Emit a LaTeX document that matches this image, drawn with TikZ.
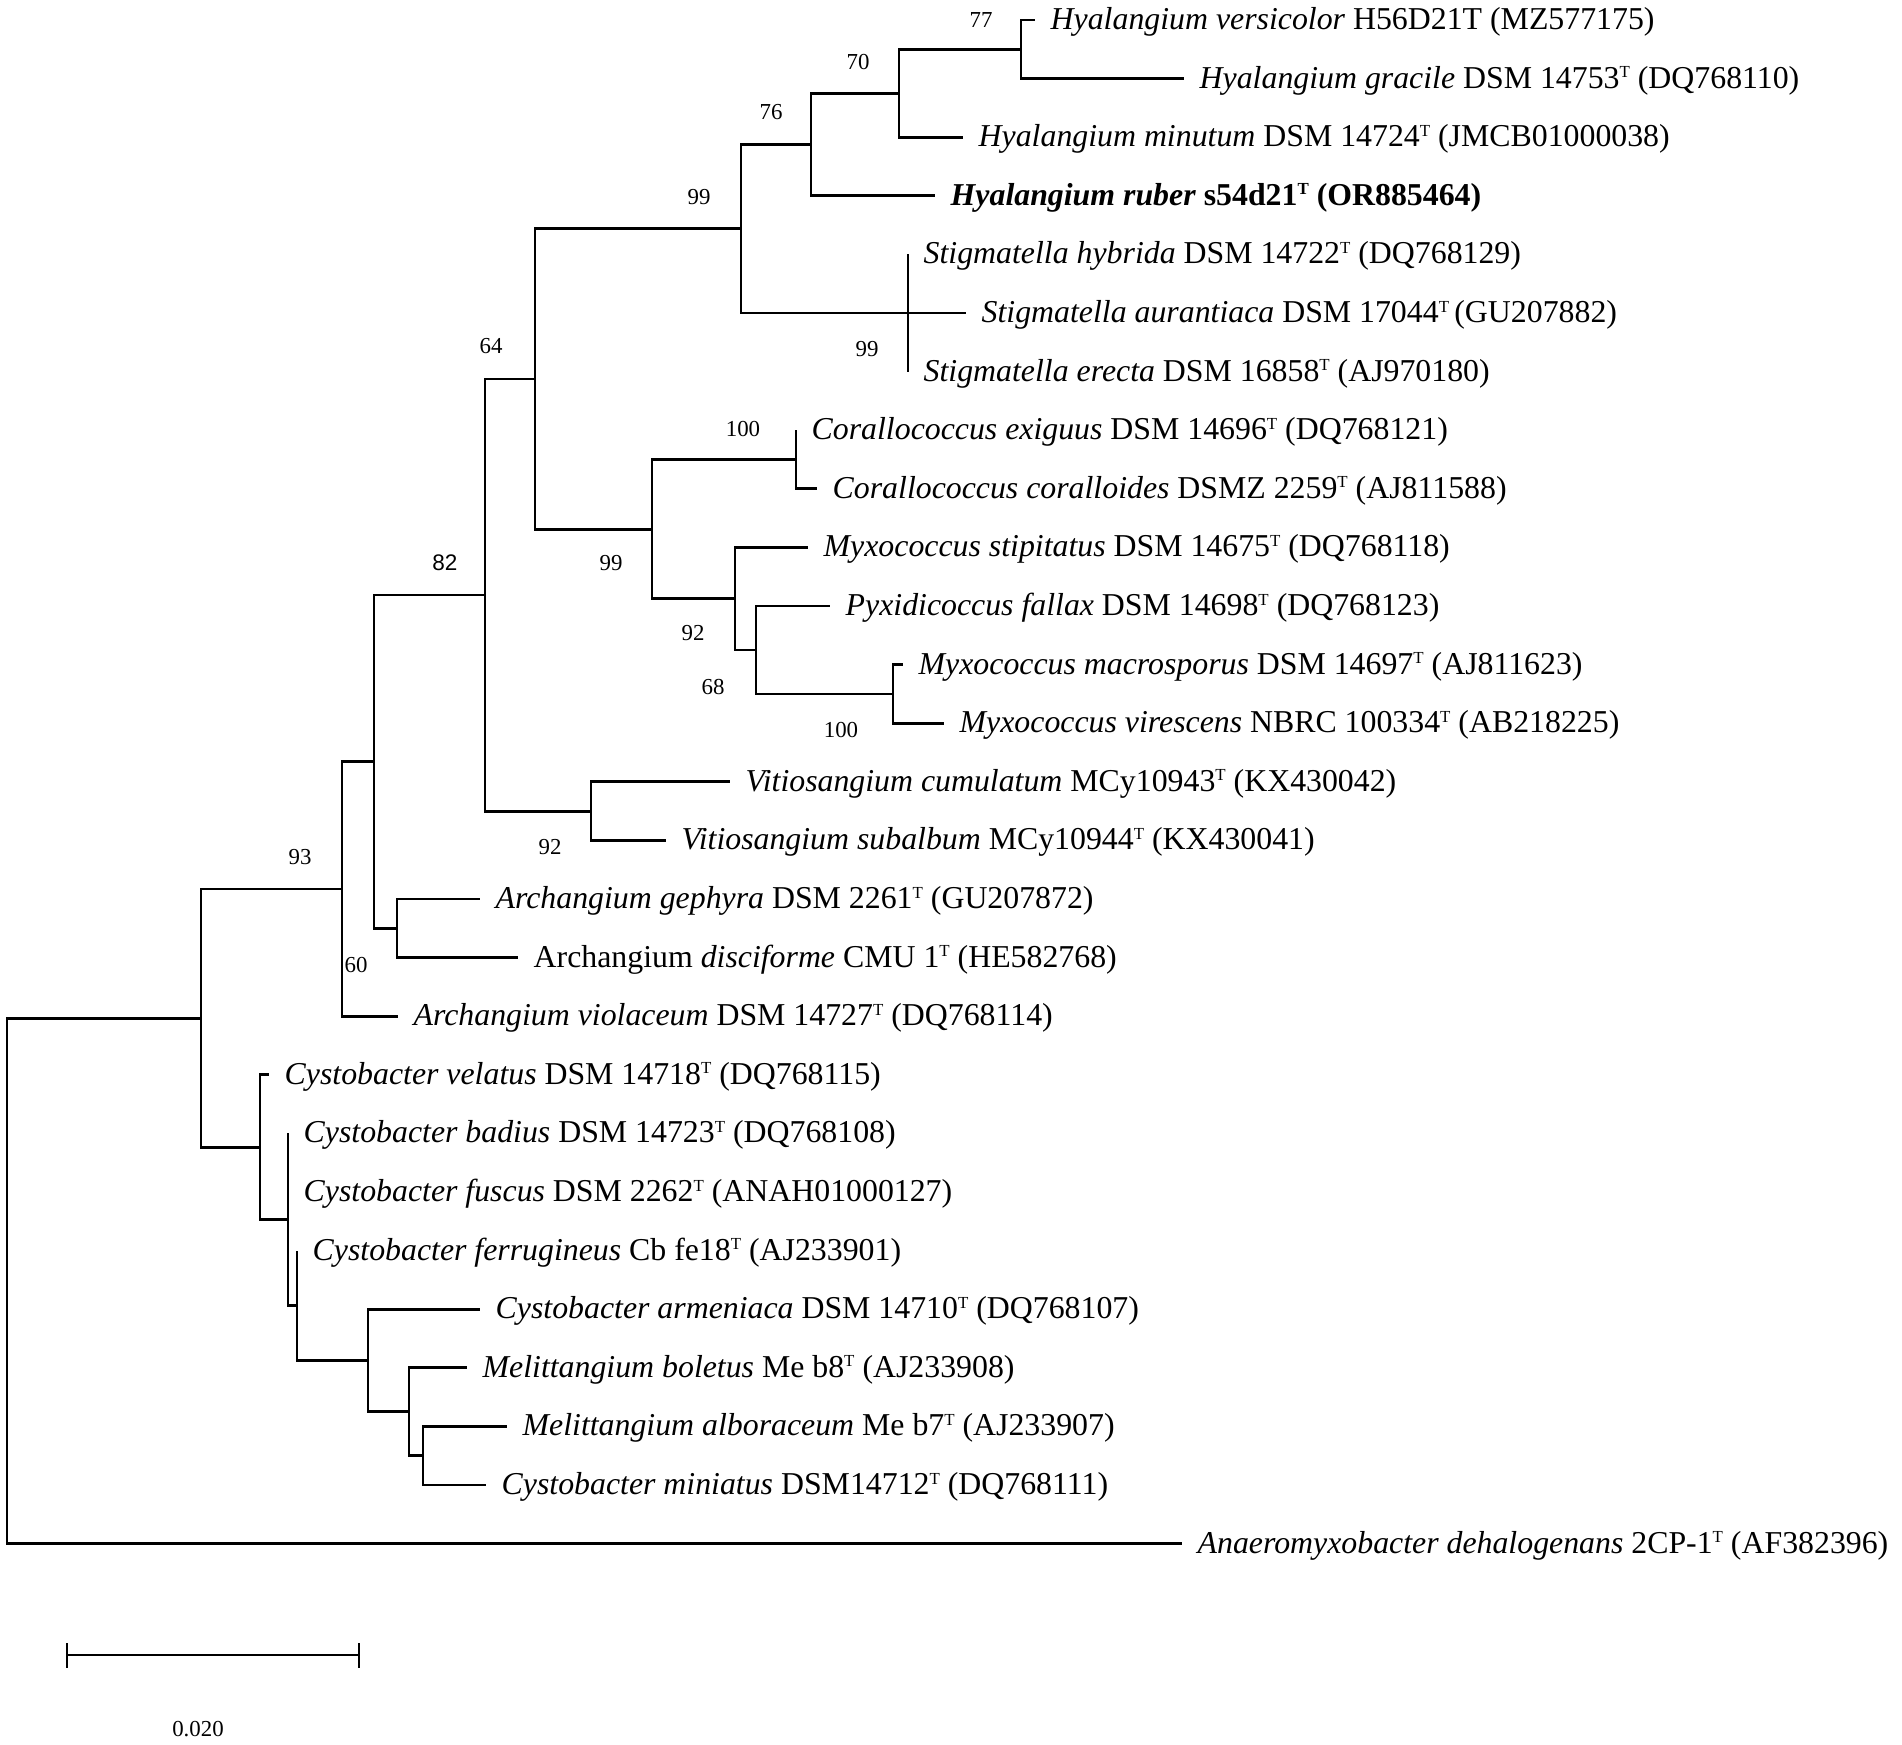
\documentclass[tikz,border=0pt]{standalone}
\usepackage{fontspec}
\setmainfont{Liberation Serif}
\newfontfamily\arialfont{Liberation Sans}
\usepackage{tikz}
\usetikzlibrary{positioning}

% small raised type-strain mark
\newcommand{\typeT}{\raisebox{0.33em}{\fontsize{4.8}{5}\selectfont T}}

\tikzset{
  branch/.style={line width=0.8pt},
  taxon/.style={anchor=base west, inner sep=0pt, xshift=0.15cm, yshift=-0.095cm,
    font=\fontsize{9.05}{11}\selectfont},
  boot/.style={inner sep=0pt, font=\fontsize{6.5}{8}\selectfont},
}

\begin{document}
\begin{tikzpicture}[x=0.01cm, y=-0.01cm]
    \useasboundingbox (0,0) rectangle (1902,1744);

    % Tips (one row every 58.6 px)
    \coordinate (t0) at (1035,20);
    \coordinate (t1) at (1184,78.6);
    \coordinate (t2) at (963,137.2);
    \coordinate (t3) at (935,195.8);
    \coordinate (t4) at (908,254.4);
    \coordinate (t5) at (966,313);
    \coordinate (t6) at (908,371.6);
    \coordinate (t7) at (796,430.2);
    \coordinate (t8) at (817,488.8);
    \coordinate (t9) at (808,547.4);
    \coordinate (t10) at (830,606);
    \coordinate (t11) at (903,664.6);
    \coordinate (t12) at (944,723.2);
    \coordinate (t13) at (730,781.8);
    \coordinate (t14) at (666,840.4);
    \coordinate (t15) at (480,899);
    \coordinate (t16) at (518,957.6);
    \coordinate (t17) at (398,1016.2);
    \coordinate (t18) at (269,1074.8);
    \coordinate (t19) at (288,1133.4);
    \coordinate (t20) at (288,1192);
    \coordinate (t21) at (297,1250.6);
    \coordinate (t22) at (480,1309.2);
    \coordinate (t23) at (467,1367.8);
    \coordinate (t24) at (507,1426.4);
    \coordinate (t25) at (486,1485);
    \coordinate (t26) at (1182,1543.6);

    % Internal nodes
    \coordinate (n77) at (1021,49.3);
    \coordinate (n70) at (899,93.3);
    \coordinate (n76) at (811,144.5);
    \coordinate (nStig) at (908,313);
    \coordinate (nHyal) at (741,228.8);
    \coordinate (nCoral) at (796,459.5);
    \coordinate (nMacro) at (893,693.9);
    \coordinate (n68) at (756,650);
    \coordinate (nMyxo) at (735,598.7);
    \coordinate (nCoMy) at (652,529.1);
    \coordinate (n64) at (535,379);
    \coordinate (nVitio) at (591,811.1);
    \coordinate (n82) at (485,595);
    \coordinate (nArchPair) at (397,928.3);
    \coordinate (nArch) at (374,761.7);
    \coordinate (n60) at (342,889);
    \coordinate (nCyst6) at (423,1455.7);
    \coordinate (nCyst5) at (409,1411.8);
    \coordinate (nCyst4) at (368,1360.5);
    \coordinate (nCyst3) at (297,1305.6);
    \coordinate (nCyst2) at (288,1219.5);
    \coordinate (nCyst1) at (260,1147.2);
    \coordinate (n93) at (201,1018.1);
    \coordinate (root) at (7,1280.9);

    % Branches
    \draw[branch] (n77) |- (t0) (n77) |- (t1);
    \draw[branch] (n70) |- (n77) (n70) |- (t2);
    \draw[branch] (n76) |- (n70) (n76) |- (t3);
    \draw[branch] (nStig) |- (t4) (nStig) |- (t5) (nStig) |- (t6);
    \draw[branch] (nHyal) |- (n76) (nHyal) |- (nStig);
    \draw[branch] (nCoral) |- (t7) (nCoral) |- (t8);
    \draw[branch] (nMacro) |- (t11) (nMacro) |- (t12);
    \draw[branch] (n68) |- (t10) (n68) |- (nMacro);
    \draw[branch] (nMyxo) |- (t9) (nMyxo) |- (n68);
    \draw[branch] (nCoMy) |- (nCoral) (nCoMy) |- (nMyxo);
    \draw[branch] (n64) |- (nHyal) (n64) |- (nCoMy);
    \draw[branch] (nVitio) |- (t13) (nVitio) |- (t14);
    \draw[branch] (n82) |- (n64) (n82) |- (nVitio);
    \draw[branch] (nArchPair) |- (t15) (nArchPair) |- (t16);
    \draw[branch] (nArch) |- (n82) (nArch) |- (nArchPair);
    \draw[branch] (n60) |- (nArch) (n60) |- (t17);
    \draw[branch] (nCyst6) |- (t24) (nCyst6) |- (t25);
    \draw[branch] (nCyst5) |- (t23) (nCyst5) |- (nCyst6);
    \draw[branch] (nCyst4) |- (t22) (nCyst4) |- (nCyst5);
    \draw[branch] (nCyst3) |- (t21) (nCyst3) |- (nCyst4);
    \draw[branch] (nCyst2) |- (t19) (nCyst2) |- (t20) (nCyst2) |- (nCyst3);
    \draw[branch] (nCyst1) |- (t18) (nCyst1) |- (nCyst2);
    \draw[branch] (n93) |- (n60) (n93) |- (nCyst1);
    \draw[branch] (root) |- (n93) (root) |- (t26);

    % Taxon labels
    \node[taxon] (l0) at (t0) {\textit{Hyalangium versicolor} H56D21T (MZ577175)};
    \node[taxon] (l1) at (t1) {\textit{Hyalangium gracile} DSM 14753\typeT{} (DQ768110)};
    \node[taxon] (l2) at (t2) {\textit{Hyalangium minutum} DSM 14724\typeT{} (JMCB01000038)};
    \node[taxon] (l3) at (t3) {\bfseries\textit{Hyalangium ruber} s54d21\typeT{} (OR885464)};
    \node[taxon] (l4) at (t4) {\textit{Stigmatella hybrida} DSM 14722\typeT{} (DQ768129)};
    \node[taxon] (l5) at (t5) {\textit{Stigmatella aurantiaca} DSM 17044\typeT\,(GU207882)};
    \node[taxon] (l6) at (t6) {\textit{Stigmatella erecta} DSM 16858\typeT{} (AJ970180)};
    \node[taxon] (l7) at (t7) {\textit{Corallococcus exiguus} DSM 14696\typeT{} (DQ768121)};
    \node[taxon] (l8) at (t8) {\textit{Corallococcus coralloides} DSMZ 2259\typeT{} (AJ811588)};
    \node[taxon] (l9) at (t9) {\textit{Myxococcus stipitatus} DSM 14675\typeT{} (DQ768118)};
    \node[taxon] (l10) at (t10) {\textit{Pyxidicoccus fallax} DSM 14698\typeT{} (DQ768123)};
    \node[taxon] (l11) at (t11) {\textit{Myxococcus macrosporus} DSM 14697\typeT{} (AJ811623)};
    \node[taxon] (l12) at (t12) {\textit{Myxococcus virescens} NBRC 100334\typeT{} (AB218225)};
    \node[taxon] (l13) at (t13) {\textit{Vitiosangium cumulatum} MCy10943\typeT{} (KX430042)};
    \node[taxon] (l14) at (t14) {\textit{Vitiosangium subalbum} MCy10944\typeT{} (KX430041)};
    \node[taxon] (l15) at (t15) {\textit{Archangium gephyra} DSM 2261\typeT{} (GU207872)};
    \node[taxon] (l16) at (t16) {Archangium \textit{disciforme} CMU 1\typeT{} (HE582768)};
    \node[taxon] (l17) at (t17) {\textit{Archangium violaceum} DSM 14727\typeT{} (DQ768114)};
    \node[taxon] (l18) at (t18) {\textit{Cystobacter velatus} DSM 14718\typeT{} (DQ768115)};
    \node[taxon] (l19) at (t19) {\textit{Cystobacter badius} DSM 14723\typeT{} (DQ768108)};
    \node[taxon] (l20) at (t20) {\textit{Cystobacter fuscus} DSM 2262\typeT{} (ANAH01000127)};
    \node[taxon] (l21) at (t21) {\textit{Cystobacter ferrugineus} Cb fe18\typeT{} (AJ233901)};
    \node[taxon] (l22) at (t22) {\textit{Cystobacter armeniaca} DSM 14710\typeT{} (DQ768107)};
    \node[taxon] (l23) at (t23) {\textit{Melittangium boletus} Me b8\typeT{} (AJ233908)};
    \node[taxon] (l24) at (t24) {\textit{Melittangium alboraceum} Me b7\typeT{} (AJ233907)};
    \node[taxon] (l25) at (t25) {\textit{Cystobacter miniatus} DSM14712\typeT{} (DQ768111)};
    \node[taxon] (l26) at (t26) {\textit{Anaeromyxobacter dehalogenans} 2CP-1\typeT{} (AF382396)};

    % Bootstrap values
    \node[boot] (bs77) at (981,20) {77};
    \node[boot] (bs70) at (858,62) {70};
    \node[boot] (bs76) at (771,112) {76};
    \node[boot] (bsHyal) at (699,197) {99};
    \node[boot] (bsStig) at (867,349) {99};
    \node[boot] (bsCoral) at (743,429) {100};
    \node[boot] (bsCoMy) at (611,563) {99};
    \node[boot, font=\arialfont\fontsize{6.4}{8}\selectfont] (bs82) at (445,563) {82};
    \node[boot] (bs64) at (491,346) {64};
    \node[boot] (bsMyxo) at (693,633) {92};
    \node[boot] (bs68) at (713,687) {68};
    \node[boot] (bsMacro) at (841,730) {100};
    \node[boot] (bsVitio) at (550,847) {92};
    \node[boot] (bs93) at (300,857) {93};
    \node[boot] (bs60) at (356,965) {60};

    % Scale bar
    \coordinate (sbL) at (67,1655);
    \coordinate (sbR) at (359,1655);
    \draw[branch] (sbL) -- (sbR);
    \draw[branch] ([yshift=0.12cm]sbL) -- ([yshift=-0.13cm]sbL);
    \draw[branch] ([yshift=0.12cm]sbR) -- ([yshift=-0.13cm]sbR);
    \node[boot] (sbText) at (198,1729) {0.020};
\end{tikzpicture}
\end{document}
